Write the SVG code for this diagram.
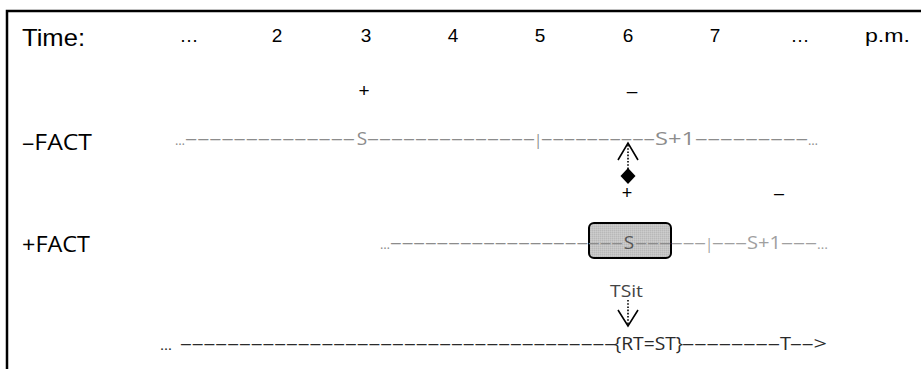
<svg xmlns="http://www.w3.org/2000/svg" width="921" height="369" viewBox="0 0 921 369">
<style>
text{font-family:"Open Sans","Noto Sans","Liberation Sans",sans-serif}
.hdr{font-family:"Liberation Sans",Arial,sans-serif}
.lbl{font-size:21px;fill:#000}
.num{font-size:19px;fill:#000;text-anchor:middle}
.g{font-size:19px;fill:#8c8c8c}
.g2{font-size:19px;fill:#a0a0a0}
.b{font-size:18px;fill:#2a2a2a}
.dots{font-size:13px}
.conn{fill:none;stroke:#000;stroke-width:1.6}
.dot{fill:none;stroke:#000;stroke-width:1.6;stroke-dasharray:1.6 1.6}
</style>
<defs>
<pattern id="tex" width="2" height="2" patternUnits="userSpaceOnUse">
<rect width="2" height="2" fill="#c4c4c4"/>
<rect width="1" height="1" fill="#b8b8b8"/>
<rect x="1" y="1" width="1" height="1" fill="#cdcdcd"/>
</pattern>
</defs>
<rect x="7" y="11" width="930" height="380" fill="#fff" stroke="#000" stroke-width="2.5"/>

<g id="header">
<text class="hdr" x="22" y="46" style="font-size:24px" textLength="63" lengthAdjust="spacingAndGlyphs">Time:</text>
<text class="num hdr" x="189" y="42">…</text>
<text class="num hdr" x="277" y="42">2</text>
<text class="num hdr" x="366" y="42">3</text>
<text class="num hdr" x="453" y="42">4</text>
<text class="num hdr" x="540" y="42">5</text>
<text class="num hdr" x="628" y="42">6</text>
<text class="num hdr" x="715" y="42">7</text>
<text class="num hdr" x="800" y="42">…</text>
<text class="hdr" x="865" y="42" style="font-size:19px" textLength="45" lengthAdjust="spacingAndGlyphs">p.m.</text>
<text class="num hdr" x="364" y="97">+</text>
<text class="num hdr" x="632" y="97">–</text>
</g>

<g id="neg-fact">
<text class="lbl" x="22" y="150" textLength="70" lengthAdjust="spacingAndGlyphs">–FACT</text>
<text class="g dots" x="175" y="145" textLength="10" lengthAdjust="spacingAndGlyphs">…</text>
<text class="g" x="185" y="145" textLength="170" lengthAdjust="spacingAndGlyphs">––––––––––––––</text>
<text class="g" x="362" y="145" text-anchor="middle">S</text>
<text class="g" x="367" y="145" textLength="168" lengthAdjust="spacingAndGlyphs">––––––––––––––</text>
<text class="g" x="538" y="145" text-anchor="middle" style="font-size:15px">|</text>
<text class="g" x="541" y="145" textLength="114" lengthAdjust="spacingAndGlyphs">––––––––––</text>
<text class="g" x="655" y="145" textLength="40" lengthAdjust="spacingAndGlyphs">S+1</text>
<text class="g" x="695" y="145" textLength="113" lengthAdjust="spacingAndGlyphs">–––––––––</text>
<text class="g dots" x="808" y="145" textLength="10" lengthAdjust="spacingAndGlyphs">…</text>
<text class="num hdr" x="627" y="199" style="font-size:18px">+</text>
<text class="num hdr" x="779" y="199" style="font-size:18px">–</text>
</g>

<g id="pos-fact">
<text class="lbl" x="22" y="252" textLength="68" lengthAdjust="spacingAndGlyphs">+FACT</text>
<rect id="s-box" x="589" y="223" width="82" height="35" rx="5" fill="url(#tex)" stroke="#000" stroke-width="2"/>
<text class="g dots" x="380" y="249" textLength="10" lengthAdjust="spacingAndGlyphs">…</text>
<text class="g" x="390" y="249" textLength="233" lengthAdjust="spacingAndGlyphs">––––––––––––––––––––</text>
<text class="g" x="629" y="249" text-anchor="middle" style="fill:#555">S</text>
<text class="g" x="635" y="249" textLength="36" lengthAdjust="spacingAndGlyphs">–––</text>
<text class="g2" x="671" y="249" textLength="35" lengthAdjust="spacingAndGlyphs">–––</text>
<text class="g2" x="709" y="249" text-anchor="middle" style="font-size:15px">|</text>
<text class="g2" x="712" y="249" textLength="35" lengthAdjust="spacingAndGlyphs">–––</text>
<text class="g2" x="747" y="249" textLength="34" lengthAdjust="spacingAndGlyphs">S+1</text>
<text class="g2" x="781" y="249" textLength="36" lengthAdjust="spacingAndGlyphs">–––</text>
<text class="g2 dots" x="817" y="249" textLength="11" lengthAdjust="spacingAndGlyphs">…</text>
</g>

<g id="tsit">
<text x="610" y="297" style="font-size:17px;fill:#444" textLength="33" lengthAdjust="spacingAndGlyphs">TSit</text>
</g>

<g id="timeline">
<text class="b dots" x="160" y="350" textLength="12" lengthAdjust="spacingAndGlyphs">…</text>
<text class="b" x="180" y="350" textLength="436" lengthAdjust="spacingAndGlyphs">–––––––––––––––––––––––––––––––––––––</text>
<text class="b" x="614" y="350" textLength="69" lengthAdjust="spacingAndGlyphs">{RT=ST}</text>
<text class="b" x="682" y="350" textLength="98" lengthAdjust="spacingAndGlyphs">––––––––</text>
<text class="b" x="780" y="350" textLength="11" lengthAdjust="spacingAndGlyphs">T</text>
<text class="b" x="790" y="350" textLength="37" lengthAdjust="spacingAndGlyphs">––&gt;</text>
</g>

<g id="connectors">
<line class="dot" x1="628" y1="145" x2="628" y2="169"/>
<path class="conn" d="M618,160 L628,143 L638,160"/>
<path d="M628,168 L635.5,176 L628,184 L620.5,176 Z" fill="#000"/>
<line class="dot" x1="628" y1="300" x2="628" y2="324"/>
<path class="conn" d="M618,310 L628,326 L638,310"/>
</g>
</svg>
